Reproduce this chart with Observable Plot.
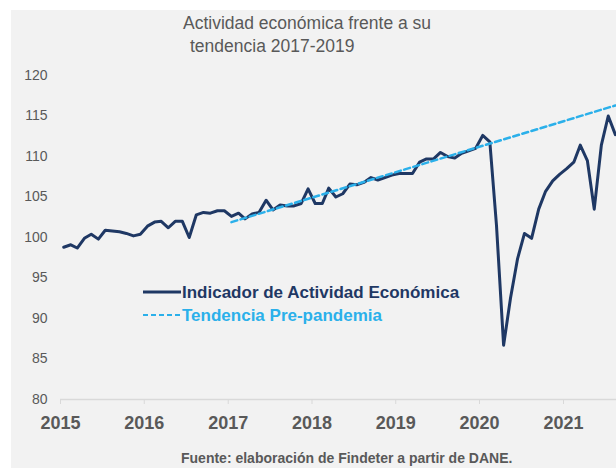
<!DOCTYPE html>
<html><head><meta charset="utf-8">
<script src="https://cdn.jsdelivr.net/npm/d3@7"></script>
<script src="https://cdn.jsdelivr.net/npm/@observablehq/plot@0.6"></script>
<style>
body{margin:0;background:#fff;width:616px;height:468px;overflow:hidden;position:relative;font-family:"Liberation Sans",Arial,sans-serif;}
#panel{position:absolute;left:11px;top:10px;width:605px;height:458px;background:#f2f2f2;}
#chart{position:absolute;left:0;top:60px;}
.t{position:absolute;white-space:nowrap;}
#title1,#title2{left:183px;font-size:17.5px;line-height:23px;color:#595959;}
#title1{top:12px;}
#title2{top:35px;left:190px;}
#caption{left:181px;top:451px;font-size:14px;line-height:14px;font-weight:bold;color:#595959;}
.leg{left:182px;font-size:17px;line-height:17px;font-weight:bold;}
#chart g[aria-label="x-axis tick label"] text{font-weight:bold;}
</style>
</head><body>
<div id="panel"></div>
<div id="chart"></div>
<div class="t" id="title1">Actividad económica frente a su</div>
<div class="t" id="title2">tendencia 2017-2019</div>
<svg class="t" style="left:143px;top:286px" width="40" height="34">
  <line x1="0" x2="38" y1="6" y2="6" stroke="#1f3864" stroke-width="3"/>
  <line x1="0" x2="38" y1="29" y2="29" stroke="#2bb0ea" stroke-width="2" stroke-dasharray="5,3"/>
</svg>
<div class="t leg" id="leg1" style="top:284px;color:#1f3864">Indicador de Actividad Económica</div>
<div class="t leg" id="leg2" style="top:307px;color:#2bb0ea">Tendencia Pre-pandemia</div>
<div class="t" id="caption">Fuente: elaboración de Findeter a partir de DANE.</div>
<script>
// Monthly Indicador de Actividad Económica, Jan 2015 – Aug 2021
const startMonth = "2015-01-15";
const iseValues = [
  98.8, 99.1, 98.7, 99.9, 100.4, 99.8, 100.9, 100.8, 100.7, 100.5, 100.2, 100.4, // 2015
  101.4, 101.9, 102.0, 101.2, 102.0, 102.0, 100.0, 102.8, 103.1, 103.0, 103.3, 103.3, // 2016
  102.6, 103.0, 102.3, 102.9, 103.1, 104.6, 103.4, 104.0, 103.9, 103.9, 104.2, 106.0, // 2017
  104.2, 104.2, 106.1, 105.0, 105.4, 106.6, 106.5, 106.8, 107.4, 107.1, 107.4, 107.7, // 2018
  107.9, 107.9, 107.9, 109.3, 109.7, 109.7, 110.5, 110.0, 109.8, 110.4, 110.7, 111.0, // 2019
  112.6, 111.8, 101.5, 86.7, 92.5, 97.4, 100.5, 99.9, 103.5, 105.7, 107.0, 107.8,   // 2020
  108.5, 109.3, 111.4, 109.5, 103.5, 111.4, 115.0, 112.7                              // 2021
];
// Pre-pandemic trend (2017-2019) endpoints
const trendDates = ["2017-01-15", "2021-08-15"];
const trendValues = [101.9, 116.3];
const yearTicks = ["2015","2016","2017","2018","2019","2020","2021"];
const yTicks = [80, 85, 90, 95, 100, 105, 110, 115, 120];

const start = new Date(startMonth);
const series = iseValues.map((v, i) => ({date: d3.utcMonth.offset(start, i), value: v}));
const trend = trendDates.map((d, i) => ({date: new Date(d), value: trendValues[i]}));

const chart = Plot.plot({
  width: 616, height: 379,
  marginLeft: 60, marginRight: 0, marginTop: 15, marginBottom: 40,
  style: {background: "transparent", fontFamily: '"Liberation Sans", Arial, sans-serif', overflow: "visible"},
  x: {type: "utc", domain: [new Date("2015-01-01"), new Date("2021-08-20")]},
  y: {domain: [80, 120]},
  marks: [
    Plot.ruleY([80], {stroke: "#d9d9d9", strokeWidth: 1.5}),
    Plot.axisX({ticks: yearTicks.map(y => new Date(y + "-01-01")), tickFormat: "%Y", tickSize: 5, tickPadding: 12,
      fontSize: 18, fill: "#595959", stroke: "#d9d9d9", label: null}),
    Plot.axisY({ticks: yTicks, tickSize: 0, tickPadding: 13, fontSize: 14, fill: "#595959", label: null}),
    Plot.line(series, {x: "date", y: "value", stroke: "#1f3864", strokeWidth: 3}),
    Plot.line(trend, {x: "date", y: "value", stroke: "#2bb0ea", strokeWidth: 2.5, strokeDasharray: "6,3.5"})
  ]
});
document.getElementById("chart").append(chart);
</script>
</body></html>
